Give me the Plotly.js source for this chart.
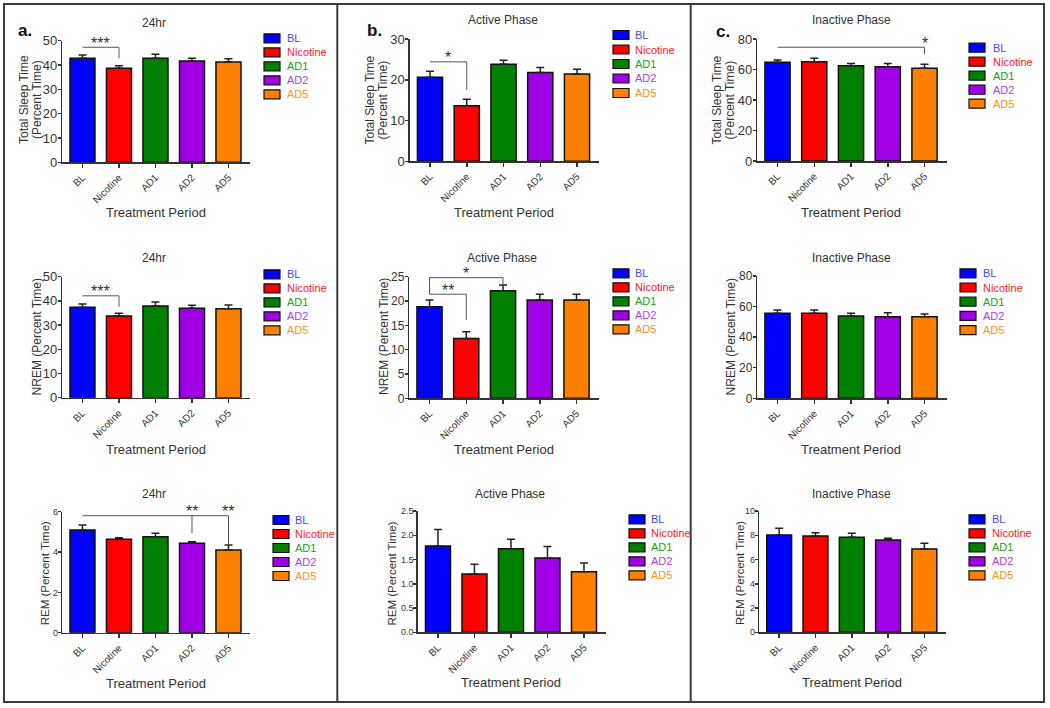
<!DOCTYPE html>
<html><head><meta charset="utf-8">
<script src="https://cdn.plot.ly/plotly-3.0.1.min.js"></script>
<style>html,body{margin:0;padding:0;background:#fff}#chart{width:1050px;height:708px}</style>
</head><body><div id="chart"></div>
<script>
// ---------------- data ----------------
const categories = ['BL', 'Nicotine', 'AD1', 'AD2', 'AD5'];
const barColors = ['#0000FF', '#FF0000', '#008000', '#A000E6', '#FF8000'];
const legendTextColors = ['#4848FF', '#FF2020', '#20A020', '#B040F0', '#FF9020'];

const tst24Mean = [42.8, 38.7, 42.8, 41.7, 41.2];
const tst24Sem = [1.3, 1.0, 1.6, 1.1, 1.4];
const tstActiveMean = [20.6, 13.6, 23.8, 21.8, 21.4];
const tstActiveSem = [1.5, 1.6, 1.0, 1.2, 1.2];
const tstInactiveMean = [64.7, 65.1, 62.5, 61.8, 60.8];
const tstInactiveSem = [1.5, 2.2, 1.5, 2.2, 2.6];

const nrem24Mean = [37.4, 33.8, 37.9, 37.0, 36.8];
const nrem24Sem = [1.3, 1.1, 1.6, 1.2, 1.5];
const nremActiveMean = [18.8, 12.3, 22.1, 20.2, 20.2];
const nremActiveSem = [1.4, 1.4, 1.2, 1.2, 1.2];
const nremInactiveMean = [55.6, 55.6, 53.8, 53.4, 53.4];
const nremInactiveSem = [2.1, 2.1, 1.8, 2.6, 1.7];

const rem24Mean = [5.09, 4.63, 4.76, 4.43, 4.10];
const rem24Sem = [0.25, 0.08, 0.17, 0.08, 0.25];
const remActiveMean = [1.78, 1.20, 1.72, 1.53, 1.25];
const remActiveSem = [0.34, 0.20, 0.20, 0.24, 0.18];
const remInactiveMean = [8.02, 7.94, 7.83, 7.61, 6.87];
const remInactiveSem = [0.55, 0.27, 0.33, 0.14, 0.47];

const panelTitles = ['24hr', 'Active Phase', 'Inactive Phase'];
const yTitles = ['Total Sleep Time<br>(Percent Time)', 'NREM (Percent Time)', 'REM (Percent Time)'];
const xTitle = 'Treatment Period';
const panelLetters = ['a.', 'b.', 'c.'];

// significance brackets (panel index, bracket span, level, legs, labels)
const sigPanel = [0, 1, 2, 3, 4, 4, 6];
const sigFrom = [0, 0, 0, 0, 0, 0, 0];
const sigTo = [1, 1, 4, 1, 2, 1, 4];
const sigLevel = [47.3, 24.4, 74.6, 42.1, 24.8, 21.4, 5.8];
const sigLegs = [[[1, 42.8]], [[1, 17.5]], [[4, 70]], [[1, 37.6]], [[0, 21.4], [2, 23.5]], [[1, 16.1]], [[3, 4.93], [4, 4.40]]];
const sigLabels = [[['***', 0.5]], [['*', 0.5]], [['*', 4]], [['***', 0.5]], [['*', 1]], [['**', 0.5]], [['**', 3], ['**', 4]]];

// ---------------- layout geometry (pixels) ----------------
const W = 1050, H = 708;
const px = v => v / W;
const py = v => 1 - v / H;
const FONT = 'Liberation Sans, Arial, sans-serif';

const panelData = [
  [tst24Mean, tst24Sem], [tstActiveMean, tstActiveSem], [tstInactiveMean, tstInactiveSem],
  [nrem24Mean, nrem24Sem], [nremActiveMean, nremActiveSem], [nremInactiveMean, nremInactiveSem],
  [rem24Mean, rem24Sem], [remActiveMean, remActiveSem], [remInactiveMean, remInactiveSem]
];
const geom = [
  {x0: 62.4, s: 36.5, yT: 40.7, yB: 162.3, ymax: 50, dt: 10, tf: 13, tt: [154, 22.7], yt: [30.5, 100], xt: [156, 212], lg: [264, 38.3, 14, 285]},
  {x0: 409.8, s: 36.75, yT: 39, yB: 161.3, ymax: 30, dt: 10, tf: 13, tt: [503, 20], yt: [376, 100], xt: [504, 212], lg: [613, 35, 14.5, 633]},
  {x0: 757.3, s: 36.75, yT: 39, yB: 161, ymax: 80, dt: 20, tf: 13, tt: [851, 20], yt: [723, 100], xt: [851, 212], lg: [969, 47.7, 14, 991]},
  {x0: 62.4, s: 36.5, yT: 276.7, yB: 397.7, ymax: 50, dt: 10, tf: 13, tt: [154, 257.7], yt: [36.7, 336.7], xt: [156, 449], lg: [264, 274.3, 14, 285]},
  {x0: 409.3, s: 36.75, yT: 276.7, yB: 398.3, ymax: 25, dt: 5, tf: 12, tt: [502, 257.7], yt: [383.3, 336.7], xt: [504, 449], lg: [613, 273.3, 14, 633]},
  {x0: 757.3, s: 36.75, yT: 276, yB: 398.3, ymax: 80, dt: 20, tf: 12, tt: [851, 257.7], yt: [730.7, 336.7], xt: [851, 449], lg: [960, 273.3, 14.2, 981]},
  {x0: 62.4, s: 36.5, yT: 511.7, yB: 632.7, ymax: 6, dt: 2, tf: 9, tt: [154.3, 494.3], yt: [45, 573.3], xt: [155.7, 683.3], lg: [273, 520, 14, 293]},
  {x0: 417.9, s: 36.5, yT: 511, yB: 632.3, ymax: 2.5, dt: 0.5, tf: 9, tt: [510, 494.3], yt: [392.3, 573.3], xt: [510.7, 682.7], lg: [629, 519.3, 14, 649], fmt: '.1f'},
  {x0: 759.2, s: 36.3, yT: 511, yB: 632.3, ymax: 10, dt: 2, tf: 9, tt: [851.7, 494.3], yt: [740.7, 573.3], xt: [851.7, 682.7], lg: [969, 519.3, 14, 990]}
];
const XL = -0.55, XR = 4.6;

const traces = [];
const layout = {
  width: W, height: H, margin: {l: 0, r: 0, t: 0, b: 0},
  paper_bgcolor: '#fff', plot_bgcolor: '#fff', showlegend: false,
  bargap: 0.315, font: {family: FONT, color: '#333'},
  shapes: [], annotations: []
};

geom.forEach((g, i) => {
  const n = i === 0 ? '' : String(i + 1);
  const [mean, sem] = panelData[i];
  traces.push({
    type: 'bar', x: categories, y: mean, xaxis: 'x' + n, yaxis: 'y' + n,
    marker: {color: barColors, line: {color: '#111', width: 1.5}},
    error_y: {type: 'data', symmetric: false, array: sem, arrayminus: sem.map(() => 0),
      color: '#222', thickness: 1.5, width: 4},
    hoverinfo: 'x+y'
  });
  const x1 = g.x0 + (XR - XL) * g.s;
  layout['xaxis' + n] = {
    domain: [px(g.x0), px(x1)], anchor: 'y' + n, type: 'category', range: [XL, XR],
    showline: true, linecolor: '#333', linewidth: 1.5, ticks: 'outside', ticklen: 4,
    tickwidth: 1.5, tickcolor: '#333', tickangle: -45, showgrid: false, zeroline: false,
    tickfont: {family: FONT, size: 10, color: '#333'}, fixedrange: true
  };
  layout['yaxis' + n] = {
    domain: [py(g.yB), py(g.yT)], anchor: 'x' + n, range: [0, g.ymax], dtick: g.dt, tick0: 0,
    showline: true, linecolor: '#333', linewidth: 1.5, ticks: 'outside', ticklen: 3,
    tickwidth: 1.5, tickcolor: '#333', showgrid: false, zeroline: false, ticklabelstandoff: -2,
    tickfont: {family: FONT, size: g.tf, color: '#333'}, tickformat: g.fmt || '', fixedrange: true
  };
  // panel title
  layout.annotations.push({xref: 'paper', yref: 'paper', x: px(g.tt[0]), y: py(g.tt[1]),
    text: panelTitles[i % 3], showarrow: false, xanchor: 'center', yanchor: 'middle',
    font: {family: FONT, size: 12, color: '#333'}});
  // y title (each line as its own rotated label)
  const lines = yTitles[Math.floor(i / 3)].split('<br>');
  lines.forEach((t, k) => {
    const off = (k - (lines.length - 1) / 2) * 13;
    layout.annotations.push({xref: 'paper', yref: 'paper', x: px(g.yt[0] + off), y: py(g.yt[1]),
      text: t, showarrow: false, textangle: -90, xanchor: 'center', yanchor: 'middle',
      font: {family: FONT, size: i < 6 ? 12 : 11.5, color: '#333'}});
  });
  // x title
  layout.annotations.push({xref: 'paper', yref: 'paper', x: px(g.xt[0]), y: py(g.xt[1]),
    text: xTitle, showarrow: false, xanchor: 'center', yanchor: 'middle',
    font: {family: FONT, size: 13, color: '#333'}});
  // legend
  const [lx, ly0, ldy, ltx] = g.lg;
  categories.forEach((c, k) => {
    const cy = ly0 + k * ldy;
    layout.shapes.push({type: 'rect', xref: 'paper', yref: 'paper',
      x0: px(lx), x1: px(lx + 16), y0: py(cy + 4.5), y1: py(cy - 4.5),
      fillcolor: barColors[k], line: {color: '#111', width: 1.2}});
    layout.annotations.push({xref: 'paper', yref: 'paper', x: px(ltx), y: py(cy),
      text: c, showarrow: false, xanchor: 'left', yanchor: 'middle',
      font: {family: FONT, size: 11, color: legendTextColors[k]}});
  });
});

// significance brackets
sigPanel.forEach((p, j) => {
  const n = p === 0 ? '' : String(p + 1);
  const ln = {color: '#555', width: 1};
  layout.shapes.push({type: 'line', xref: 'x' + n, yref: 'y' + n,
    x0: sigFrom[j], x1: sigTo[j], y0: sigLevel[j], y1: sigLevel[j], line: ln});
  sigLegs[j].forEach(([lx, ly]) => {
    layout.shapes.push({type: 'line', xref: 'x' + n, yref: 'y' + n,
      x0: lx, x1: lx, y0: sigLevel[j], y1: ly, line: ln});
  });
  sigLabels[j].forEach(([t, lx]) => {
    layout.annotations.push({xref: 'x' + n, yref: 'y' + n, x: lx, y: sigLevel[j],
      text: t, showarrow: false, xanchor: 'center', yanchor: 'middle', yshift: 4,
      font: {family: FONT, size: 16, color: '#333'}});
  });
});

// panel letters
[[25, 30.7], [374, 30.7], [723, 31.7]].forEach(([x, y], k) => {
  layout.annotations.push({xref: 'paper', yref: 'paper', x: px(x), y: py(y),
    text: '<b>' + panelLetters[k] + '</b>', showarrow: false, xanchor: 'center', yanchor: 'middle',
    font: {family: FONT, size: 17, color: '#111'}});
});

// frame
const fr = {color: '#3a3a3a', width: 2};
layout.shapes.push({type: 'rect', xref: 'paper', yref: 'paper', x0: px(4), x1: px(1044), y0: py(702), y1: py(4), line: fr});
[337.3, 690.7].forEach(x => layout.shapes.push({type: 'line', xref: 'paper', yref: 'paper',
  x0: px(x), x1: px(x), y0: py(702), y1: py(4), line: fr}));

Plotly.newPlot('chart', traces, layout, {displayModeBar: false, staticPlot: true});
</script>
</body></html>
